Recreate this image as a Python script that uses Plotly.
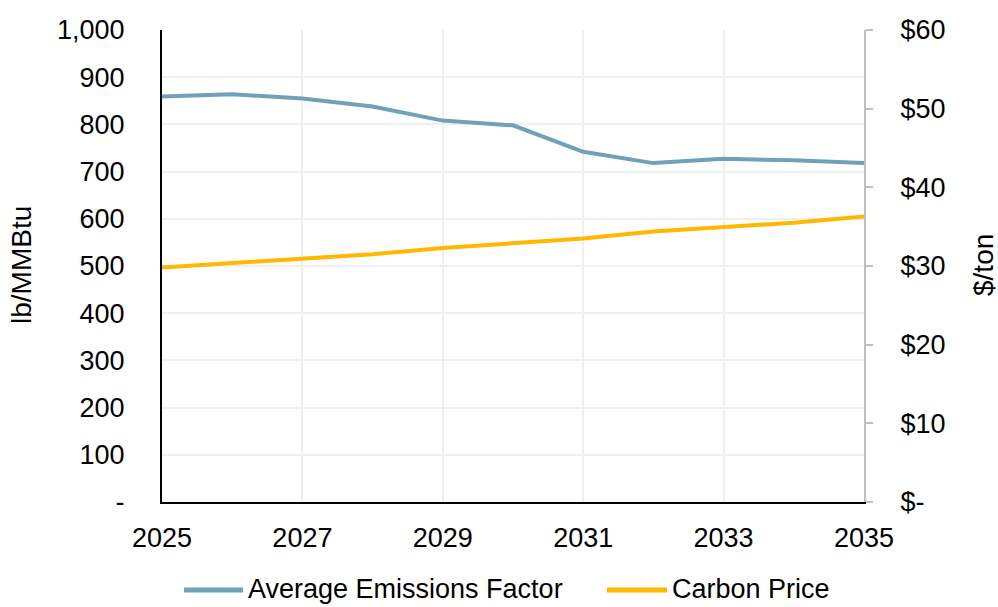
import plotly.graph_objects as go

years = list(range(2025, 2036))
emissions_factor = [859, 864, 855, 838, 808, 798, 742, 718, 727, 724, 718]
carbon_price = [29.8, 30.4, 31.0, 31.5, 32.3, 32.9, 33.5, 34.4, 35.0, 35.5, 36.3]

series_names = ["Average Emissions Factor", "Carbon Price"]
series_colors = ["#6FA1B8", "#FFB800"]

left_ticks = list(range(0, 1001, 100))
left_labels = ["-"] + [f"{v:,}" for v in left_ticks[1:]]
right_ticks = list(range(0, 61, 10))
right_labels = ["$-"] + [f"${v}" for v in right_ticks[1:]]

FONT = "Liberation Sans, Arial, sans-serif"
W, H = 998, 607
ML, MR, MT, MB = 162, 134, 30, 105
PW, PH = W - ML - MR, H - MT - MB


def px_to_paper_x(px):
    return (px - ML) / PW


def px_to_paper_y(py):
    return (H - MB - py) / PH


fig = go.Figure()
fig.add_trace(go.Scatter(
    x=years, y=emissions_factor, name=series_names[0],
    mode="lines", line=dict(color=series_colors[0], width=4), yaxis="y",
))
fig.add_trace(go.Scatter(
    x=years, y=carbon_price, name=series_names[1],
    mode="lines", line=dict(color=series_colors[1], width=4), yaxis="y2",
))

# Legend drawn below the plot: long line keys followed by the series names
legend_shapes = []
legend_notes = []
legend_y = 590
for name, color, (x0, x1) in zip(series_names, series_colors, [(184, 243), (607, 667)]):
    legend_shapes.append(dict(
        type="line", xref="paper", yref="paper",
        x0=px_to_paper_x(x0), x1=px_to_paper_x(x1),
        y0=px_to_paper_y(legend_y), y1=px_to_paper_y(legend_y),
        line=dict(color=color, width=5),
    ))
    legend_notes.append(dict(
        text=name, xref="paper", yref="paper", showarrow=False,
        x=px_to_paper_x(x1 + 4), y=px_to_paper_y(legend_y - 1),
        xanchor="left", yanchor="middle", borderpad=0, font=dict(size=27),
    ))

axis_titles = [
    dict(text="lb/MMBtu", x=px_to_paper_x(21), y=px_to_paper_y(265),
         xref="paper", yref="paper", showarrow=False, textangle=-90,
         font=dict(size=28), xanchor="center", yanchor="middle"),
    dict(text="$/ton", x=px_to_paper_x(983), y=px_to_paper_y(265),
         xref="paper", yref="paper", showarrow=False, textangle=-90,
         font=dict(size=28), xanchor="center", yanchor="middle"),
]

fig.update_layout(
    width=W, height=H,
    margin=dict(l=ML, r=MR, t=MT, b=MB, autoexpand=False),
    paper_bgcolor="white", plot_bgcolor="white",
    font=dict(family=FONT, size=27, color="black"),
    showlegend=False,
    xaxis=dict(
        range=[2025, 2035], tickmode="array", tickvals=list(range(2025, 2036, 2)),
        showgrid=True, gridcolor="#EFEFEF", gridwidth=2,
        showline=True, linecolor="black", linewidth=2,
        ticks="", zeroline=False, ticklabelstandoff=11,
    ),
    yaxis=dict(
        range=[0, 1000], tickmode="array", tickvals=left_ticks, ticktext=left_labels,
        showgrid=True, gridcolor="#EFEFEF", gridwidth=2,
        showline=True, linecolor="black", linewidth=2,
        ticks="", zeroline=False, ticklabelstandoff=30,
    ),
    yaxis2=dict(
        range=[0, 60], tickmode="array", tickvals=right_ticks, ticktext=right_labels,
        overlaying="y", side="right", showgrid=False, zeroline=False,
        showline=True, linecolor="#BFBFBF", linewidth=2,
        ticks="outside", ticklen=7, tickcolor="#BFBFBF", tickwidth=2,
        ticklabelstandoff=22,
    ),
    shapes=legend_shapes,
    annotations=axis_titles + legend_notes,
)

fig.write_html("out.html")
